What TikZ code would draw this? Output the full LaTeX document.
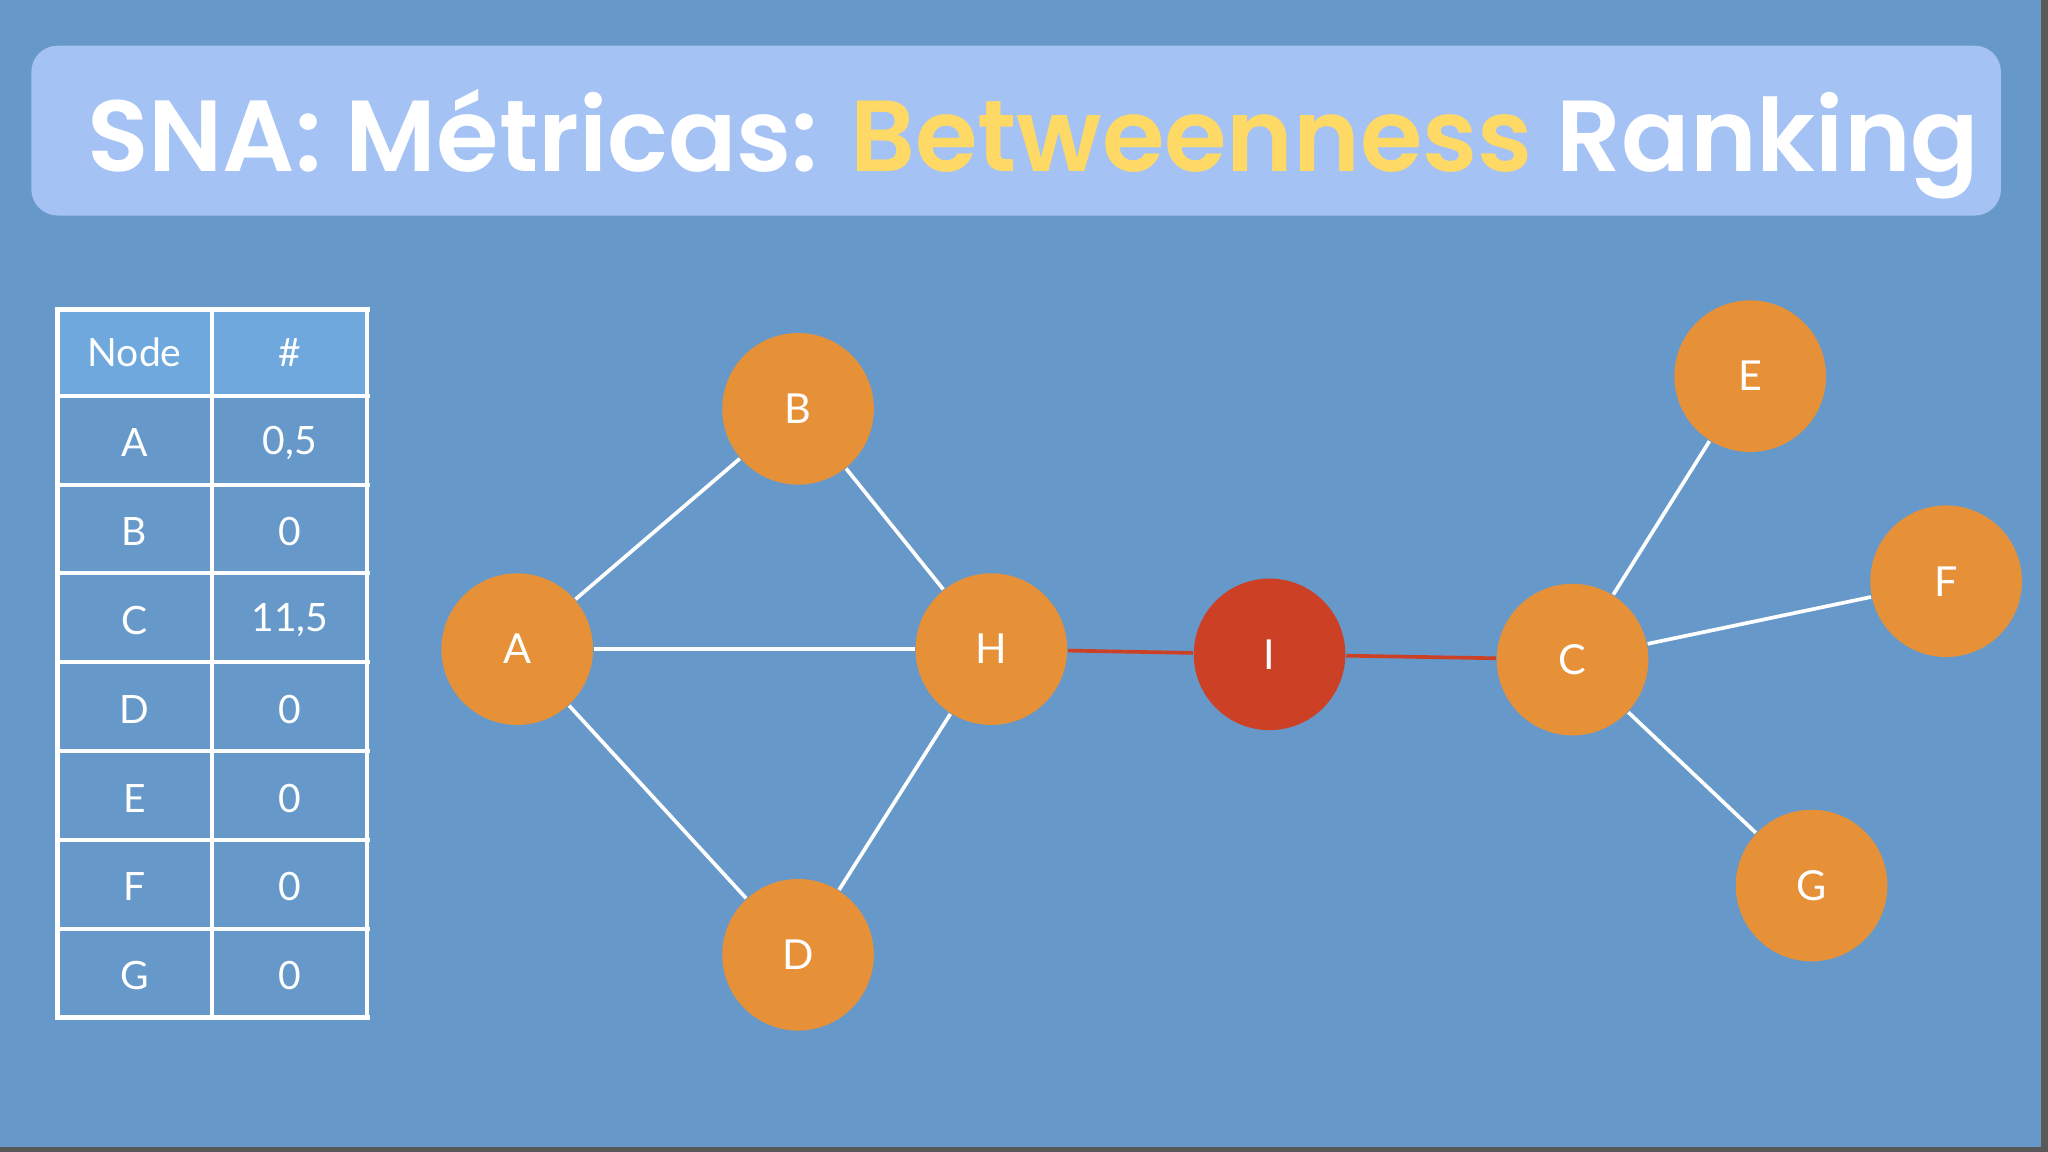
\documentclass[tikz,border=0pt]{standalone}
\usepackage{fontspec}
\setmainfont{Lato}
\newfontfamily\titlefont{Poppins}[UprightFont=* SemiBold]
\definecolor{bg}{HTML}{6699C9}
\definecolor{bar}{HTML}{A4C2F4}
\definecolor{hdr}{HTML}{6FA8DC}
\definecolor{ylw}{HTML}{FFD966}
\definecolor{org}{HTML}{E69138}
\definecolor{redn}{HTML}{CC4125}
\begin{document}
\begin{tikzpicture}[x=0.01cm,y=-0.01cm,
  nd/.style={circle,fill=org,minimum size=1.16cm,inner sep=0pt,text=white,font=\fontsize{9}{10}\selectfont},
  wl/.style={white,line width=0.8pt},
  rl/.style={redn,line width=0.8pt},
  cell/.style={text=white,font=\fontsize{8.5}{10}\selectfont}]
\fill[bg] (0,0) rectangle (1568,882);
\fill[gray!70!black] (0,878) rectangle (1568,882);
\fill[gray!70!black] (1563,0) rectangle (1568,882);
\useasboundingbox (0,0) rectangle (1568,882);
\fill[bar,rounded corners=0.2cm] (24,35) rectangle (1532,165);
\node[anchor=west,text=white,inner sep=0pt,font=\titlefont\fontsize{22}{26}\selectfont] (title) at (66,110) {SNA: Métricas: \textcolor{ylw}{Betweenness} Ranking};
% table
\fill[hdr] (44,237) rectangle (281,303);
\foreach \y in {237,303,371,439,507,575,643,711,779} \draw[white,line width=0.9pt] (42,\y) -- (283,\y);
\foreach \x in {44,162,281} \draw[white,line width=0.9pt] (\x,235) -- (\x,781);
\node[cell] (h1) at (103,270) {Node};
\node[cell] (h2) at (222,270) {\#};
\foreach \n/\v [count=\i] in {A/{0,5},B/0,C/{11,5},D/0,E/0,F/0,G/0}{
  \node[cell] (r\i a) at (103,271+68*\i) {\n};
  \node[cell] (r\i b) at (222,271+68*\i) {\v};
}
% graph
\node[nd] (A) at (396,497) {A};
\node[nd] (B) at (611,313) {B};
\node[nd] (H) at (759,497) {H};
\node[nd] (D) at (611,731) {D};
\node[nd,fill=redn] (I) at (972,501) {I};
\node[nd] (C) at (1204,505) {C};
\node[nd] (E) at (1340,288) {E};
\node[nd] (F) at (1490,445) {F};
\node[nd] (G) at (1387,678) {G};
\draw[wl] (A)--(B); \draw[wl] (A)--(H); \draw[wl] (A)--(D);
\draw[wl] (B)--(H); \draw[wl] (H)--(D);
\draw[wl] (C)--(E); \draw[wl] (C)--(F); \draw[wl] (C)--(G);
\draw[rl] (H)--(I); \draw[rl] (I)--(C);
\end{tikzpicture}
\end{document}
